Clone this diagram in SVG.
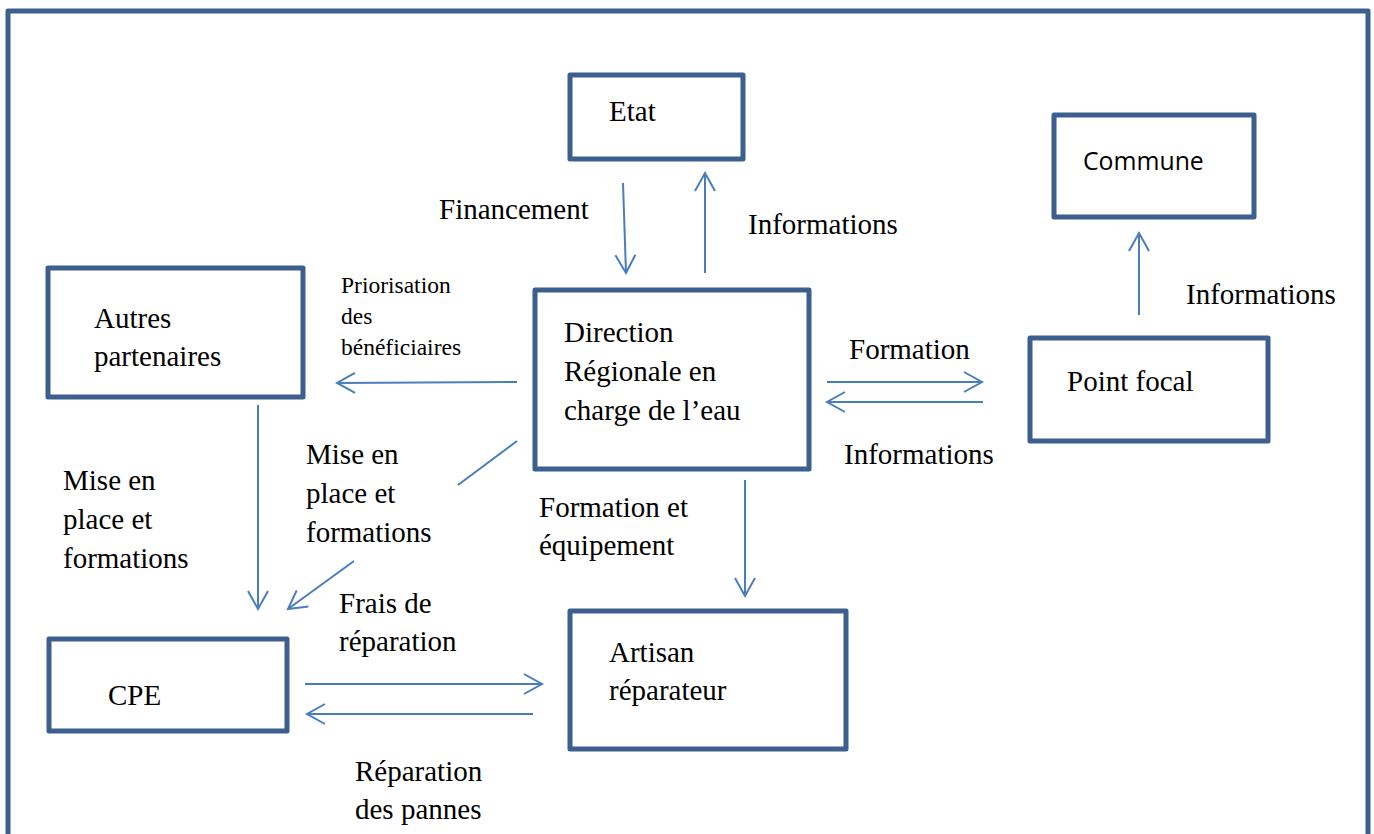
<svg xmlns="http://www.w3.org/2000/svg" width="1374" height="834" viewBox="0 0 1374 834">
<style>
.box{fill:#fff;stroke:#3c5f8e;stroke-width:5;stroke-linejoin:round}
.frame{fill:none;stroke:#3c5f8e;stroke-width:5;stroke-linejoin:round}
.ln{fill:none;stroke:#4a7ebb;stroke-width:2}
.t{font-family:'Liberation Serif','Times New Roman',serif;font-size:29px;fill:#000}
.s{font-family:'Liberation Serif','Times New Roman',serif;font-size:23.5px;fill:#000}
.sans{font-family:'Open Sans','Liberation Sans',sans-serif;font-size:24.8px;fill:#000}
</style>
<defs>
<marker id="ah" markerUnits="userSpaceOnUse" markerWidth="24" markerHeight="24" viewBox="-20 -12 24 24" refX="0" refY="0" orient="auto">
<path d="M-18,-10 L0,0 L-18,10" fill="none" stroke="#4a7ebb" stroke-width="2"/>
</marker>
</defs>
<rect width="1374" height="834" fill="#fff"/>
<path class="frame" d="M8,840 L8,11 L1368,11 L1368,840"/>
<g id="etat"><rect class="box" x="570" y="75" width="173" height="84"/><text class="t" x="609" y="121">Etat</text></g>
<g id="commune"><rect class="box" x="1054" y="115" width="200" height="102"/><text class="sans" x="1083" y="170">Commune</text></g>
<g id="autres"><rect class="box" x="48" y="268" width="255" height="129"/><text class="t" x="94" y="328">Autres</text><text class="t" x="94" y="366">partenaires</text></g>
<g id="direction"><rect class="box" x="535" y="290" width="274" height="179"/><text class="t" x="564" y="342">Direction</text><text class="t" x="564" y="381">Régionale en</text><text class="t" x="564" y="420">charge de l’eau</text></g>
<g id="pointfocal"><rect class="box" x="1030" y="338" width="238" height="103"/><text class="t" x="1067" y="391">Point focal</text></g>
<g id="cpe"><rect class="box" x="49" y="639" width="238" height="92"/><text class="t" x="108" y="705">CPE</text></g>
<g id="artisan"><rect class="box" x="570" y="611" width="276" height="138"/><text class="t" x="609" y="662">Artisan</text><text class="t" x="609" y="700">réparateur</text></g>
<g id="connectors">
<line class="ln" x1="623" y1="183" x2="626" y2="273" marker-end="url(#ah)"/>
<line class="ln" x1="705" y1="273" x2="705" y2="173" marker-end="url(#ah)"/>
<line class="ln" x1="517" y1="382" x2="337" y2="383" marker-end="url(#ah)"/>
<line class="ln" x1="517" y1="441" x2="458" y2="485"/>
<line class="ln" x1="354" y1="561" x2="288" y2="609" marker-end="url(#ah)"/>
<line class="ln" x1="258" y1="405" x2="258" y2="609" marker-end="url(#ah)"/>
<line class="ln" x1="745" y1="480" x2="745" y2="596" marker-end="url(#ah)"/>
<line class="ln" x1="827" y1="382" x2="982" y2="382" marker-end="url(#ah)"/>
<line class="ln" x1="983" y1="402" x2="827" y2="402" marker-end="url(#ah)"/>
<line class="ln" x1="1139" y1="315" x2="1139" y2="233" marker-end="url(#ah)"/>
<line class="ln" x1="305" y1="684" x2="542" y2="684" marker-end="url(#ah)"/>
<line class="ln" x1="533" y1="714" x2="307" y2="714" marker-end="url(#ah)"/>
</g>
<g id="labels">
<text class="t" x="439" y="219">Financement</text>
<text class="t" x="748" y="234">Informations</text>
<text class="t" x="1186" y="304">Informations</text>
<text class="s" x="341" y="293">Priorisation</text>
<text class="s" x="341" y="324">des</text>
<text class="s" x="341" y="355">bénéficiaires</text>
<text class="t" x="849" y="359">Formation</text>
<text class="t" x="844" y="464">Informations</text>
<text class="t" x="306" y="464">Mise en</text>
<text class="t" x="306" y="503">place et</text>
<text class="t" x="306" y="542">formations</text>
<text class="t" x="63" y="490">Mise en</text>
<text class="t" x="63" y="529">place et</text>
<text class="t" x="63" y="568">formations</text>
<text class="t" x="539" y="517">Formation et</text>
<text class="t" x="539" y="555">équipement</text>
<text class="t" x="339" y="613">Frais de</text>
<text class="t" x="339" y="651">réparation</text>
<text class="t" x="355" y="781">Réparation</text>
<text class="t" x="355" y="819">des pannes</text>
</g>
</svg>
